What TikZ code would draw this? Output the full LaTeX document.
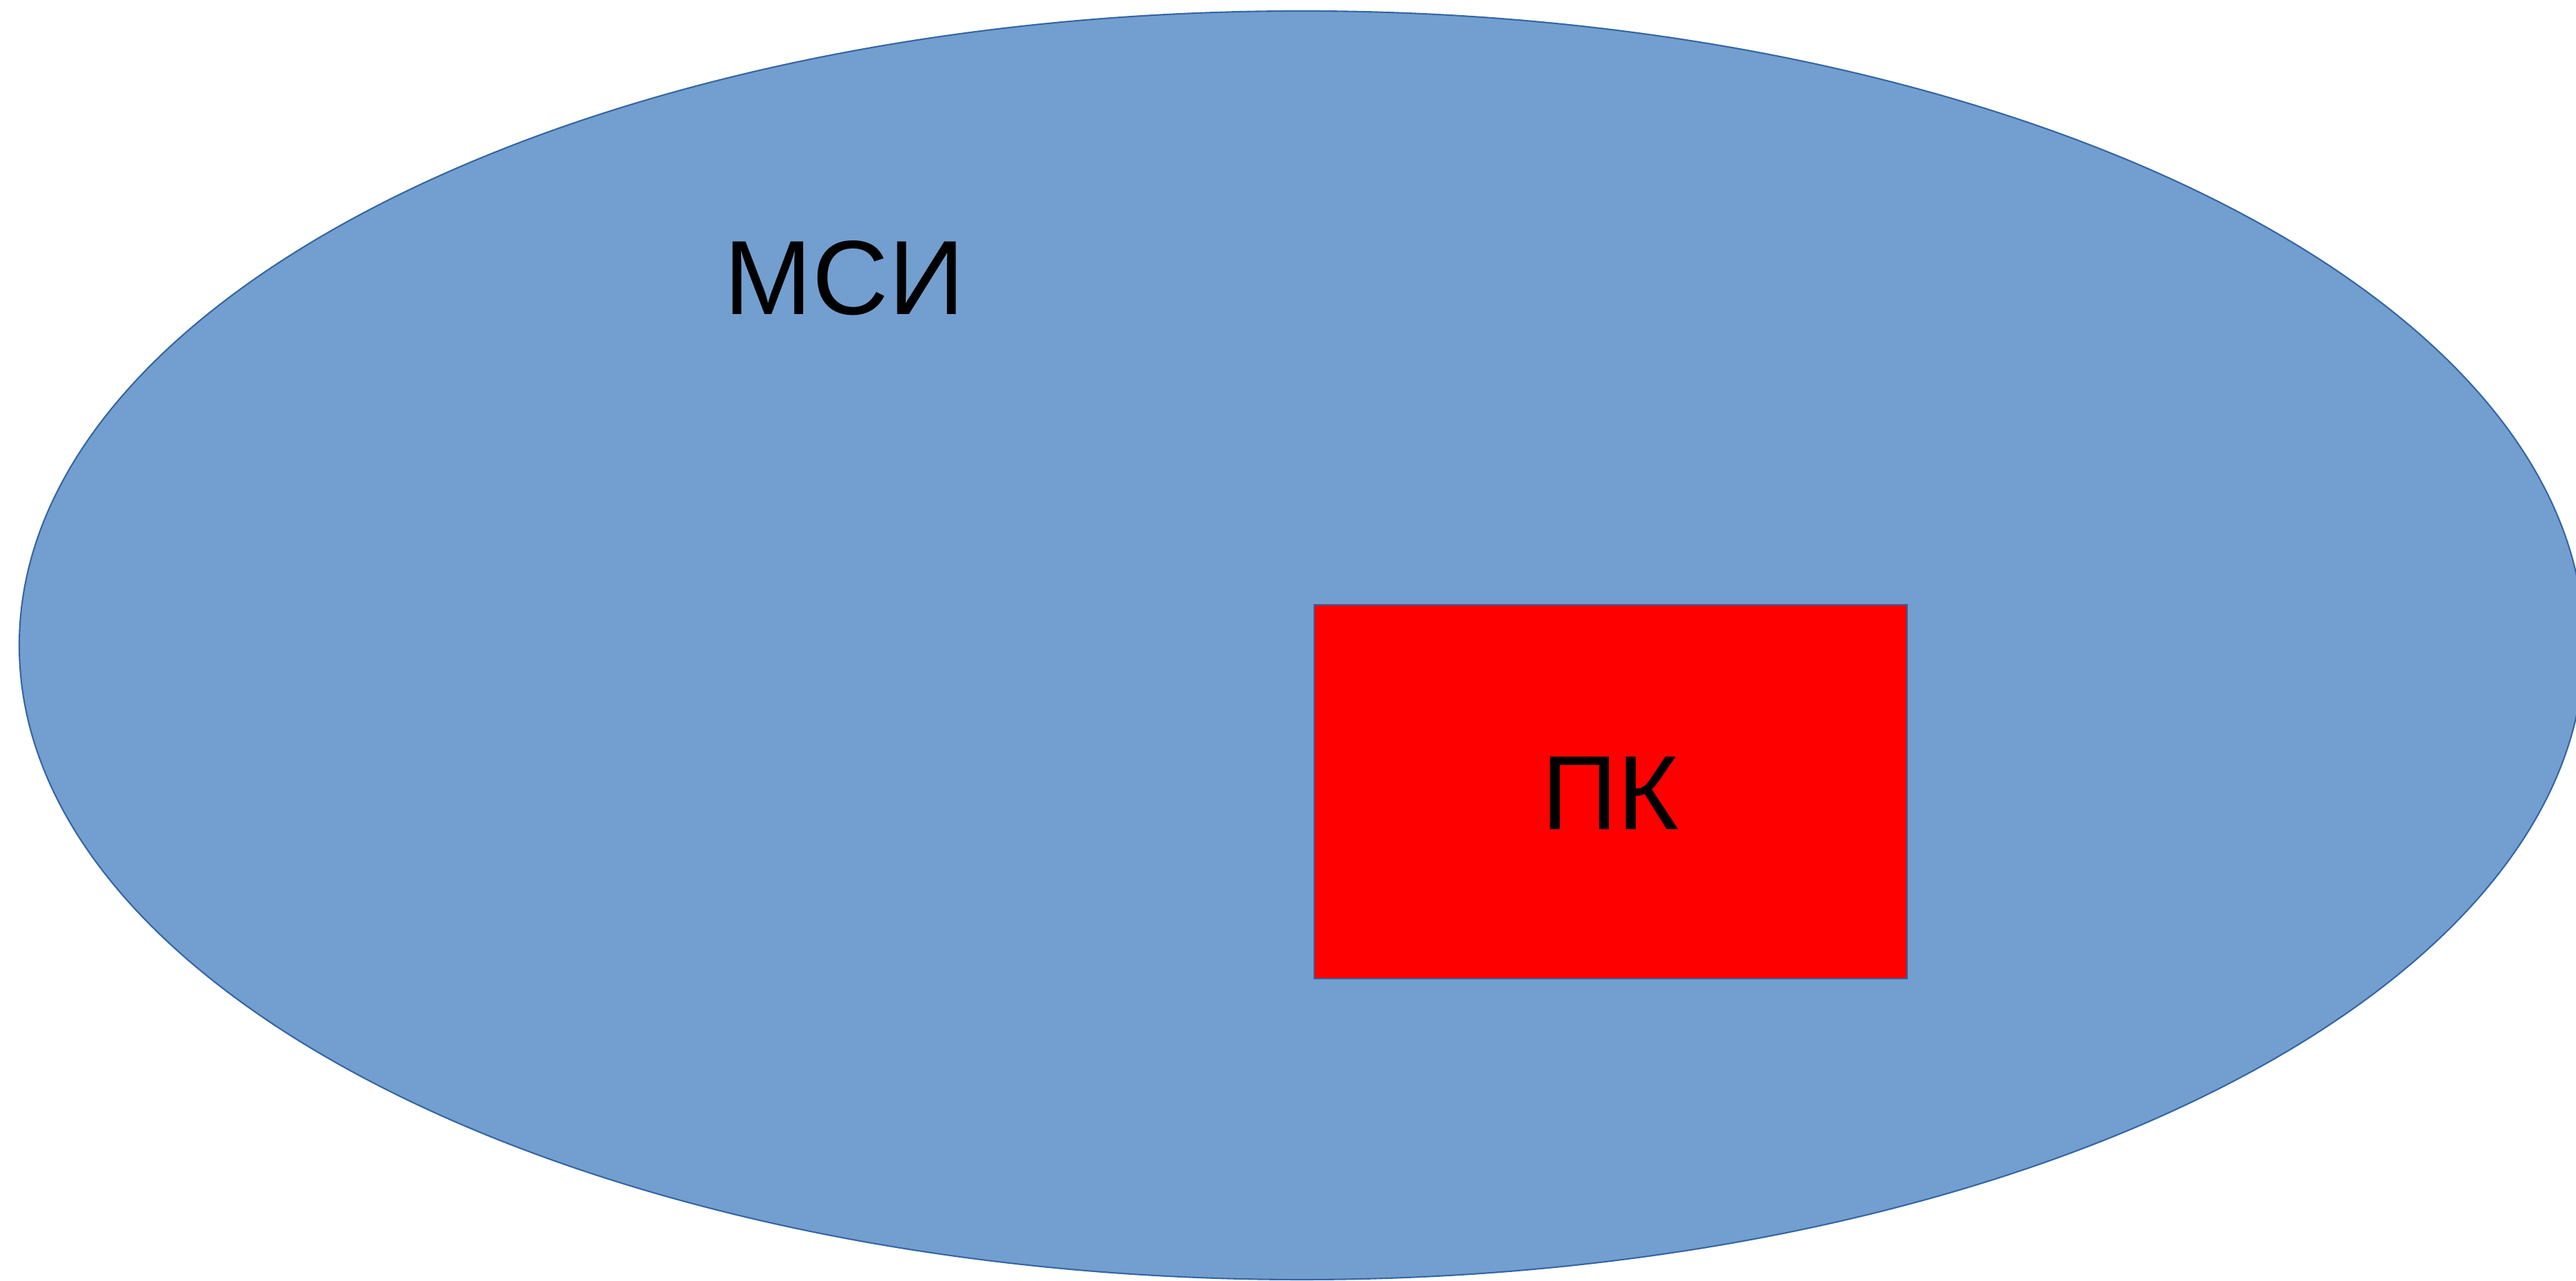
\documentclass[tikz,border=0pt]{standalone}
\usepackage{fontspec}
\setmainfont{Liberation Sans}
\definecolor{msiblue}{RGB}{114,159,207}
\definecolor{msiedge}{RGB}{52,101,164}

\begin{document}
\begin{tikzpicture}[font=\fontsize{43.6}{52}\selectfont,
        label/.style={inner sep=0pt, anchor=base},
        pcbox/.style={rectangle, fill=red, draw=msiedge, line width=0.5pt,
            minimum width=8.61cm, minimum height=5.43cm, inner sep=0pt}]
        \useasboundingbox (0,0) rectangle (37.4,18.6);
        \clip (0,0) rectangle (37.4,18.6);

        \filldraw[fill=msiblue, draw=msiedge, line width=0.6pt]
            (18.9,9.23) ellipse [x radius=18.62, y radius=9.21];

        \node[label] (msi) at (12.26,14.03) {МСИ};

        \node[pcbox] (pc) at (23.385,7.105) {};
        \node[label] (pclabel) at ([yshift=-0.555cm]pc.center) {ПК};
    \end{tikzpicture}
\end{document}
